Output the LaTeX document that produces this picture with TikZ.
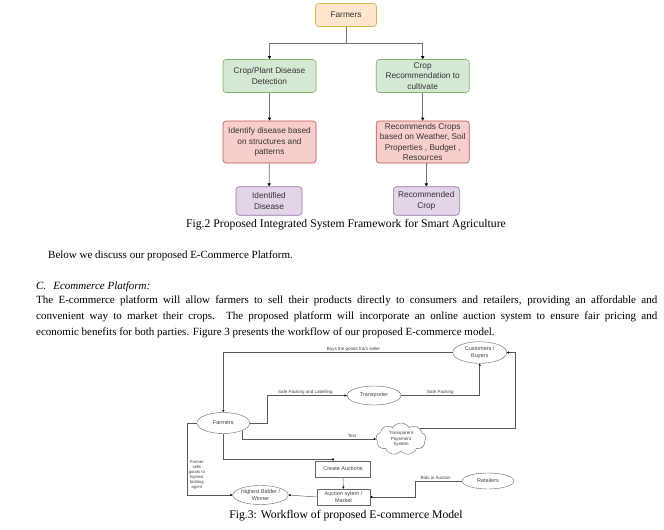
\documentclass[tikz,border=0pt]{standalone}
\usepackage{fontspec}
\setmainfont{Liberation Serif}
\newfontfamily\diagfont{Liberation Sans}
\usetikzlibrary{arrows.meta,shapes.geometric,shapes.symbols,calc}
\definecolor{farmFill}{HTML}{FFE6CC}
\definecolor{farmLine}{HTML}{D6B656}
\definecolor{grnFill}{HTML}{D5E8D4}
\definecolor{grnLine}{HTML}{82B366}
\definecolor{redFill}{HTML}{F8CECC}
\definecolor{redLine}{HTML}{B85450}
\definecolor{purFill}{HTML}{E1D5E7}
\definecolor{purLine}{HTML}{9673A6}
\newcommand{\bodyfont}{\fontsize{11}{16}\selectfont}
\newcommand{\capfont}{\fontsize{11.7}{14}\selectfont}
\newcommand{\boxfont}{\diagfont\fontsize{8.3}{10.3}\selectfont}
\newcommand{\nodefont}{\diagfont\fontsize{5.5}{6.6}\selectfont}
\newcommand{\lblfont}{\diagfont\fontsize{4.5}{5.2}\selectfont}
\tikzset{
    flowbox/.style={draw, rounded corners=3pt, line width=0.6pt, align=center,
        font=\boxfont, text=black!80, inner sep=1pt},
    flowline/.style={draw=black!55, line width=0.8pt,
        -{Triangle[length=3pt,width=3.2pt,color=black]}},
    bubble/.style={ellipse, draw=black!60, fill=white, line width=0.4pt,
        inner sep=0pt, align=center, font=\nodefont, text=black!75},
    plainbox/.style={rectangle, draw=black!60, fill=white, line width=0.4pt,
        inner sep=0pt, align=center, font=\nodefont, text=black!75},
    wire/.style={draw=black!65, line width=0.45pt,
        -{Triangle[length=2.2pt,width=2.2pt,color=black]}},
    wirelabel/.style={font=\lblfont, text=black!75, inner sep=1pt}
}
\begin{document}
\begin{tikzpicture}[x=1pt,y=-1pt]
      \useasboundingbox (0,0) rectangle (664,530);
      % Fig.2 framework
      \node[flowbox, fill=farmFill, draw=farmLine, minimum width=61pt, minimum height=23pt] (farm) at (346,15) {Farmers};
      \node[flowbox, fill=grnFill, draw=grnLine, minimum width=93pt, minimum height=33pt] (detect) at (269.5,76) {Crop/Plant Disease\\Detection};
      \node[flowbox, fill=grnFill, draw=grnLine, minimum width=93pt, minimum height=33pt] (recom) at (422.7,76) {Crop\\Recommendation to\\cultivate};
      \node[flowbox, fill=redFill, draw=redLine, minimum width=93pt, minimum height=42pt] (ident) at (269.5,142) {Identify disease based\\on structures and\\patterns};
      \node[flowbox, fill=redFill, draw=redLine, minimum width=93pt, minimum height=42pt] (suggest) at (422.7,142) {Recommends Crops\\based on Weather, Soil\\Properties , Budget ,\\Resources};
      \node[flowbox, fill=purFill, draw=purLine, minimum width=66pt, minimum height=28.5pt] (disease) at (269,201) {Identified\\Disease};
      \node[flowbox, fill=purFill, draw=purLine, minimum width=66pt, minimum height=28.5pt] (crop) at (426.3,201) {Recommended\\Crop};
      \coordinate (split) at (346,43);
      \draw[draw=black!55, line width=0.8pt] (farm.south) -- (split);
      \draw[flowline] (split) -| (detect.north);
      \draw[flowline] (split) -| (recom.north);
      \draw[flowline] (detect) -- (ident);
      \draw[flowline] (recom) -- (suggest);
      \draw[flowline] (ident) -- (disease);
      \draw[flowline] (suggest.south -| crop.north) -- (crop.north);
      \node[font=\capfont] (cap2) at (346,225) {Fig.2 Proposed Integrated System Framework for Smart Agriculture};
      % text between the figures
      \node[font=\bodyfont, anchor=west, inner sep=0pt] (intro) at (48,256) {Below we discuss our proposed E-Commerce Platform.};
      \node[font=\bodyfont\itshape, anchor=west, inner sep=0pt] (sect) at (36,287) {C.\hspace{7pt}Ecommerce Platform:};
      \node[font=\bodyfont, anchor=north west, inner sep=0pt, text width=621pt, align=justify] (para) at (36,296)
          {The E-commerce platform will allow farmers to sell their products directly to consumers and retailers, providing an affordable and\linebreak
           convenient way to market their crops. The proposed platform will incorporate an online auction system to ensure fair pricing and\linebreak
           economic benefits for both parties. Figure 3 presents the workflow of our proposed E-commerce model.};
      % Fig.3 workflow
      \node[bubble, minimum width=54pt, minimum height=21.6pt] (cust) at (479.7,352.5) {Customers /\\Buyers};
      \node[bubble, minimum width=54pt, minimum height=19pt] (trans) at (374,395.5) {Transporter};
      \node[bubble, minimum width=53pt, minimum height=21pt] (seller) at (223.3,423) {Farmers};
      \node[cloud, cloud puffs=9, cloud puff arc=115, aspect=1.6, draw=black!60, fill=white, line width=0.4pt,
            inner sep=0pt, minimum width=50pt, minimum height=32pt, align=center, font=\lblfont, text=black!75] (pay) at (401,439) {Transparent\\Payement\\System};
      \node[plainbox, minimum width=55pt, minimum height=16pt] (create) at (343,469) {Create Auctions};
      \node[plainbox, minimum width=53pt, minimum height=16pt] (auct) at (343.5,497) {Auction sytem /\\Market};
      \node[bubble, minimum width=52pt, minimum height=16pt] (retail) at (488,481) {Retailers};
      \node[bubble, minimum width=51pt, minimum height=19pt] (winner) at (260.5,495) {Highest Bidder /\\Winner};
      \draw[wire] (cust.west) -| node[wirelabel, pos=0.216, above] {Buys the goods from seller} (seller.north);
      \draw[wire] (seller.east) -- ++(17,0) |- node[wirelabel, pos=0.74, above] {Safe Packing and Labelling} (trans.west);
      \draw[wire] (trans.east) -| node[wirelabel, pos=0.25, above] {Safe Packing} (cust.south);
      \draw[wire] (seller.-22) |- node[wirelabel, pos=0.91, above] {Text} (pay.west);
      \draw[wire] (pay.30) -| ([xshift=8pt]cust.east) -- (cust.east);
      \draw[wire] (seller.south) -- ++(0,26) -| ([xshift=-10pt]create.north);
      \draw[wire] (create) -- (auct);
      \draw[wire] (retail.west) -- ++(-46.5,0) node[wirelabel, pos=0.56, above] {Bids in Auction} |- (auct.east);
      \draw[wire] (auct.west) -- (winner.east);
      \draw[wire] (seller.west) -- ++(-9,0) |- node[wirelabel, pos=0.36, right, align=center, font=\diagfont\fontsize{4.2}{5}\selectfont] {Farmer\\sells\\goods to\\highest\\bidding\\agent} (winner.west);
      \node[font=\capfont] (cap3) at (346,516) {Fig.3: Workflow of proposed E-commerce Model};
\end{tikzpicture}
\end{document}
